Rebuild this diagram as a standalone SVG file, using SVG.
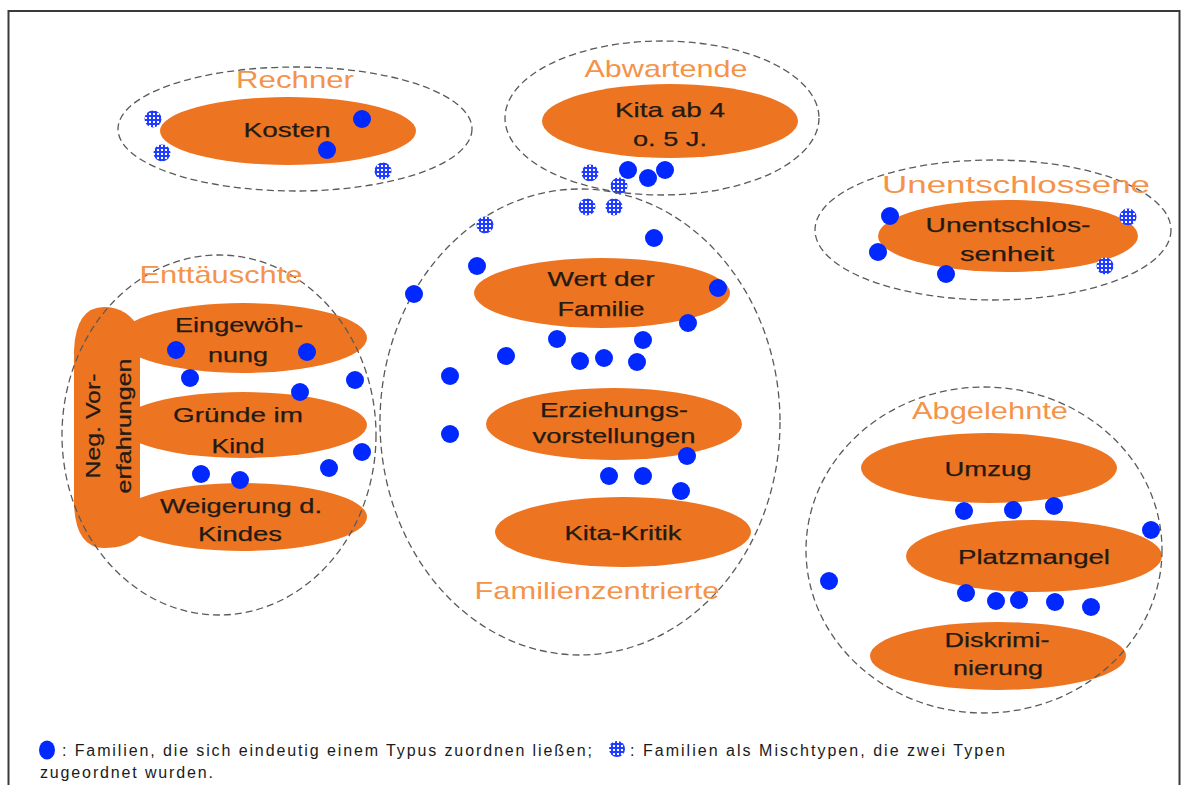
<svg xmlns="http://www.w3.org/2000/svg" width="1181" height="785" viewBox="0 0 1181 785">
<defs>
<pattern id="chk" width="4" height="4" patternUnits="userSpaceOnUse"><rect width="4" height="4" fill="#1f3cff"/><rect x="1" y="1" width="2" height="2" fill="#ffffff"/></pattern>
<style>
.o{fill:#ed7522}
.d{fill:none;stroke:#5a5a5a;stroke-width:1.3;stroke-dasharray:7 4}
.b{fill:#0028ff}
.c{fill:url(#chk)}
.lbl{font-family:"Liberation Sans",Arial,sans-serif;font-size:24px;fill:#f4934a;text-anchor:middle}
.in{font-family:"Liberation Sans",Arial,sans-serif;font-size:21px;fill:#231a14;stroke:#231a14;stroke-width:0.25;text-anchor:middle}
.lg{font-family:"Liberation Sans",Arial,sans-serif;font-size:16px;fill:#1a1a1a}
</style>
</defs>
<rect x="0" y="0" width="1181" height="785" fill="#fff"/>
<rect x="8.5" y="11" width="1171" height="800" fill="none" stroke="#3a3a3a" stroke-width="2"/>

<g id="rechner">
<ellipse class="o" cx="288" cy="131" rx="128" ry="34"/>
<ellipse class="d" cx="295" cy="129" rx="177" ry="62"/>
<text class="lbl" x="295" y="88" textLength="118" lengthAdjust="spacingAndGlyphs">Rechner</text>
<text class="in" x="287" y="137" textLength="87" lengthAdjust="spacingAndGlyphs">Kosten</text>
<circle class="b" cx="362" cy="119" r="9"/><circle class="b" cx="327" cy="150" r="9"/>
<circle class="c" cx="153" cy="119" r="8.5"/><circle class="c" cx="162" cy="153" r="8.5"/><circle class="c" cx="383" cy="171" r="8.5"/>
</g>

<g id="abwartende">
<ellipse class="o" cx="670" cy="121" rx="128" ry="37"/>
<ellipse class="d" cx="662" cy="118" rx="157" ry="77"/>
<text class="lbl" x="666" y="77" textLength="163" lengthAdjust="spacingAndGlyphs">Abwartende</text>
<text class="in" x="670" y="117" textLength="110" lengthAdjust="spacingAndGlyphs">Kita ab 4</text>
<text class="in" x="670" y="146" textLength="74" lengthAdjust="spacingAndGlyphs">o. 5 J.</text>
<circle class="b" cx="628" cy="170" r="9"/><circle class="b" cx="648" cy="178" r="9"/><circle class="b" cx="665" cy="170" r="9"/>
<circle class="c" cx="590" cy="173" r="8.5"/><circle class="c" cx="619" cy="186" r="8.5"/>
</g>

<g id="unentschlossene">
<ellipse class="o" cx="1008" cy="236" rx="130" ry="36"/>
<ellipse class="d" cx="993" cy="230" rx="178" ry="70"/>
<text class="lbl" x="1016" y="193" textLength="268" lengthAdjust="spacingAndGlyphs">Unentschlossene</text>
<text class="in" x="1008" y="232" textLength="165" lengthAdjust="spacingAndGlyphs">Unentschlos-</text>
<text class="in" x="1007" y="261" textLength="94" lengthAdjust="spacingAndGlyphs">senheit</text>
<circle class="b" cx="890" cy="216" r="9"/><circle class="b" cx="878" cy="252" r="9"/><circle class="b" cx="946" cy="274" r="9"/>
<circle class="c" cx="1128" cy="217" r="8.5"/><circle class="c" cx="1105" cy="266" r="8.5"/>
</g>

<g id="enttaeuschte">
<path class="o" d="M104,307 Q76,307 74,350 L74,505 Q76,548 104,548 Q128,548 140,535 L140,330 Q128,307 104,307 Z"/>
<ellipse class="o" cx="243" cy="338" rx="124" ry="35"/>
<ellipse class="o" cx="243" cy="425" rx="124" ry="33"/>
<ellipse class="o" cx="243" cy="517" rx="124" ry="34"/>
<path class="o" d="M120,360 Q135,372 140,385 L140,400 Q132,395 120,393 Z"/>
<path class="o" d="M120,452 Q135,462 140,475 L140,490 Q132,486 120,484 Z"/>
<ellipse class="d" cx="219" cy="435" rx="157" ry="180"/>
<text class="lbl" x="221" y="283" textLength="163" lengthAdjust="spacingAndGlyphs">Enttäuschte</text>
<text class="in" x="239" y="332" textLength="128" lengthAdjust="spacingAndGlyphs">Eingewöh-</text>
<text class="in" x="238" y="362" textLength="60" lengthAdjust="spacingAndGlyphs">nung</text>
<text class="in" x="238" y="422" textLength="130" lengthAdjust="spacingAndGlyphs">Gründe im</text>
<text class="in" x="238" y="453" textLength="53" lengthAdjust="spacingAndGlyphs">Kind</text>
<text class="in" x="241" y="513" textLength="162" lengthAdjust="spacingAndGlyphs">Weigerung d.</text>
<text class="in" x="240" y="541" textLength="84" lengthAdjust="spacingAndGlyphs">Kindes</text>
<text class="in" transform="translate(100,426) rotate(-90)" x="0" y="0" textLength="105" lengthAdjust="spacingAndGlyphs">Neg. Vor-</text>
<text class="in" transform="translate(131,426) rotate(-90)" x="0" y="0" textLength="135" lengthAdjust="spacingAndGlyphs">erfahrungen</text>
<circle class="b" cx="176" cy="350" r="9"/><circle class="b" cx="307" cy="352" r="9"/><circle class="b" cx="190" cy="378" r="9"/>
<circle class="b" cx="300" cy="392" r="9"/><circle class="b" cx="355" cy="380" r="9"/><circle class="b" cx="362" cy="452" r="9"/>
<circle class="b" cx="329" cy="468" r="9"/><circle class="b" cx="201" cy="474" r="9"/><circle class="b" cx="240" cy="480" r="9"/>
</g>

<g id="familienzentrierte">
<ellipse class="o" cx="602" cy="293" rx="128" ry="35"/>
<ellipse class="o" cx="614" cy="424" rx="128" ry="36"/>
<ellipse class="o" cx="623" cy="532" rx="128" ry="35"/>
<ellipse class="d" cx="580" cy="422" rx="200" ry="233"/>
<text class="lbl" x="597" y="599" textLength="245" lengthAdjust="spacingAndGlyphs">Familienzentrierte</text>
<text class="in" x="601" y="286" textLength="107" lengthAdjust="spacingAndGlyphs">Wert der</text>
<text class="in" x="601" y="316" textLength="87" lengthAdjust="spacingAndGlyphs">Familie</text>
<text class="in" x="614" y="417" textLength="148" lengthAdjust="spacingAndGlyphs">Erziehungs-</text>
<text class="in" x="614" y="443" textLength="163" lengthAdjust="spacingAndGlyphs">vorstellungen</text>
<text class="in" x="623" y="540" textLength="117" lengthAdjust="spacingAndGlyphs">Kita-Kritik</text>
<circle class="c" cx="485" cy="225" r="8.5"/><circle class="c" cx="587" cy="207" r="8.5"/><circle class="c" cx="614" cy="207" r="8.5"/>
<circle class="b" cx="654" cy="238" r="9"/><circle class="b" cx="477" cy="266" r="9"/><circle class="b" cx="414" cy="294" r="9"/>
<circle class="b" cx="718" cy="288" r="9"/><circle class="b" cx="688" cy="323" r="9"/><circle class="b" cx="557" cy="339" r="9"/>
<circle class="b" cx="643" cy="340" r="9"/><circle class="b" cx="506" cy="356" r="9"/><circle class="b" cx="580" cy="361" r="9"/>
<circle class="b" cx="604" cy="358" r="9"/><circle class="b" cx="637" cy="362" r="9"/><circle class="b" cx="450" cy="376" r="9"/>
<circle class="b" cx="450" cy="434" r="9"/><circle class="b" cx="687" cy="456" r="9"/><circle class="b" cx="609" cy="476" r="9"/>
<circle class="b" cx="643" cy="476" r="9"/><circle class="b" cx="681" cy="491" r="9"/>
</g>

<g id="abgelehnte">
<ellipse class="o" cx="989" cy="468" rx="128" ry="35"/>
<ellipse class="o" cx="1034" cy="556" rx="128" ry="36"/>
<ellipse class="o" cx="998" cy="656" rx="128" ry="34"/>
<ellipse class="d" cx="984" cy="550" rx="178" ry="163"/>
<text class="lbl" x="990" y="419" textLength="156" lengthAdjust="spacingAndGlyphs">Abgelehnte</text>
<text class="in" x="988" y="476" textLength="87" lengthAdjust="spacingAndGlyphs">Umzug</text>
<text class="in" x="1034" y="564" textLength="152" lengthAdjust="spacingAndGlyphs">Platzmangel</text>
<text class="in" x="997" y="647" textLength="105" lengthAdjust="spacingAndGlyphs">Diskrimi-</text>
<text class="in" x="998" y="675" textLength="90" lengthAdjust="spacingAndGlyphs">nierung</text>
<circle class="b" cx="964" cy="511" r="9"/><circle class="b" cx="1013" cy="510" r="9"/><circle class="b" cx="1054" cy="506" r="9"/>
<circle class="b" cx="1151" cy="530" r="9"/><circle class="b" cx="829" cy="581" r="9"/><circle class="b" cx="966" cy="593" r="9"/>
<circle class="b" cx="996" cy="601" r="9"/><circle class="b" cx="1019" cy="600" r="9"/><circle class="b" cx="1055" cy="602" r="9"/>
<circle class="b" cx="1091" cy="607" r="9"/>
</g>

<g id="connectors"></g>

<g id="legend">
<ellipse class="b" cx="47" cy="750" rx="8" ry="9.5"/>
<text class="lg" x="62" y="756" textLength="530" lengthAdjust="spacing">: Familien, die sich eindeutig einem Typus zuordnen ließen;</text>
<circle class="c" cx="617" cy="749" r="8"/>
<text class="lg" x="630" y="756" textLength="375" lengthAdjust="spacing">: Familien als Mischtypen, die zwei Typen</text>
<text class="lg" x="40" y="778" textLength="173" lengthAdjust="spacing">zugeordnet wurden.</text>
</g>
</svg>
